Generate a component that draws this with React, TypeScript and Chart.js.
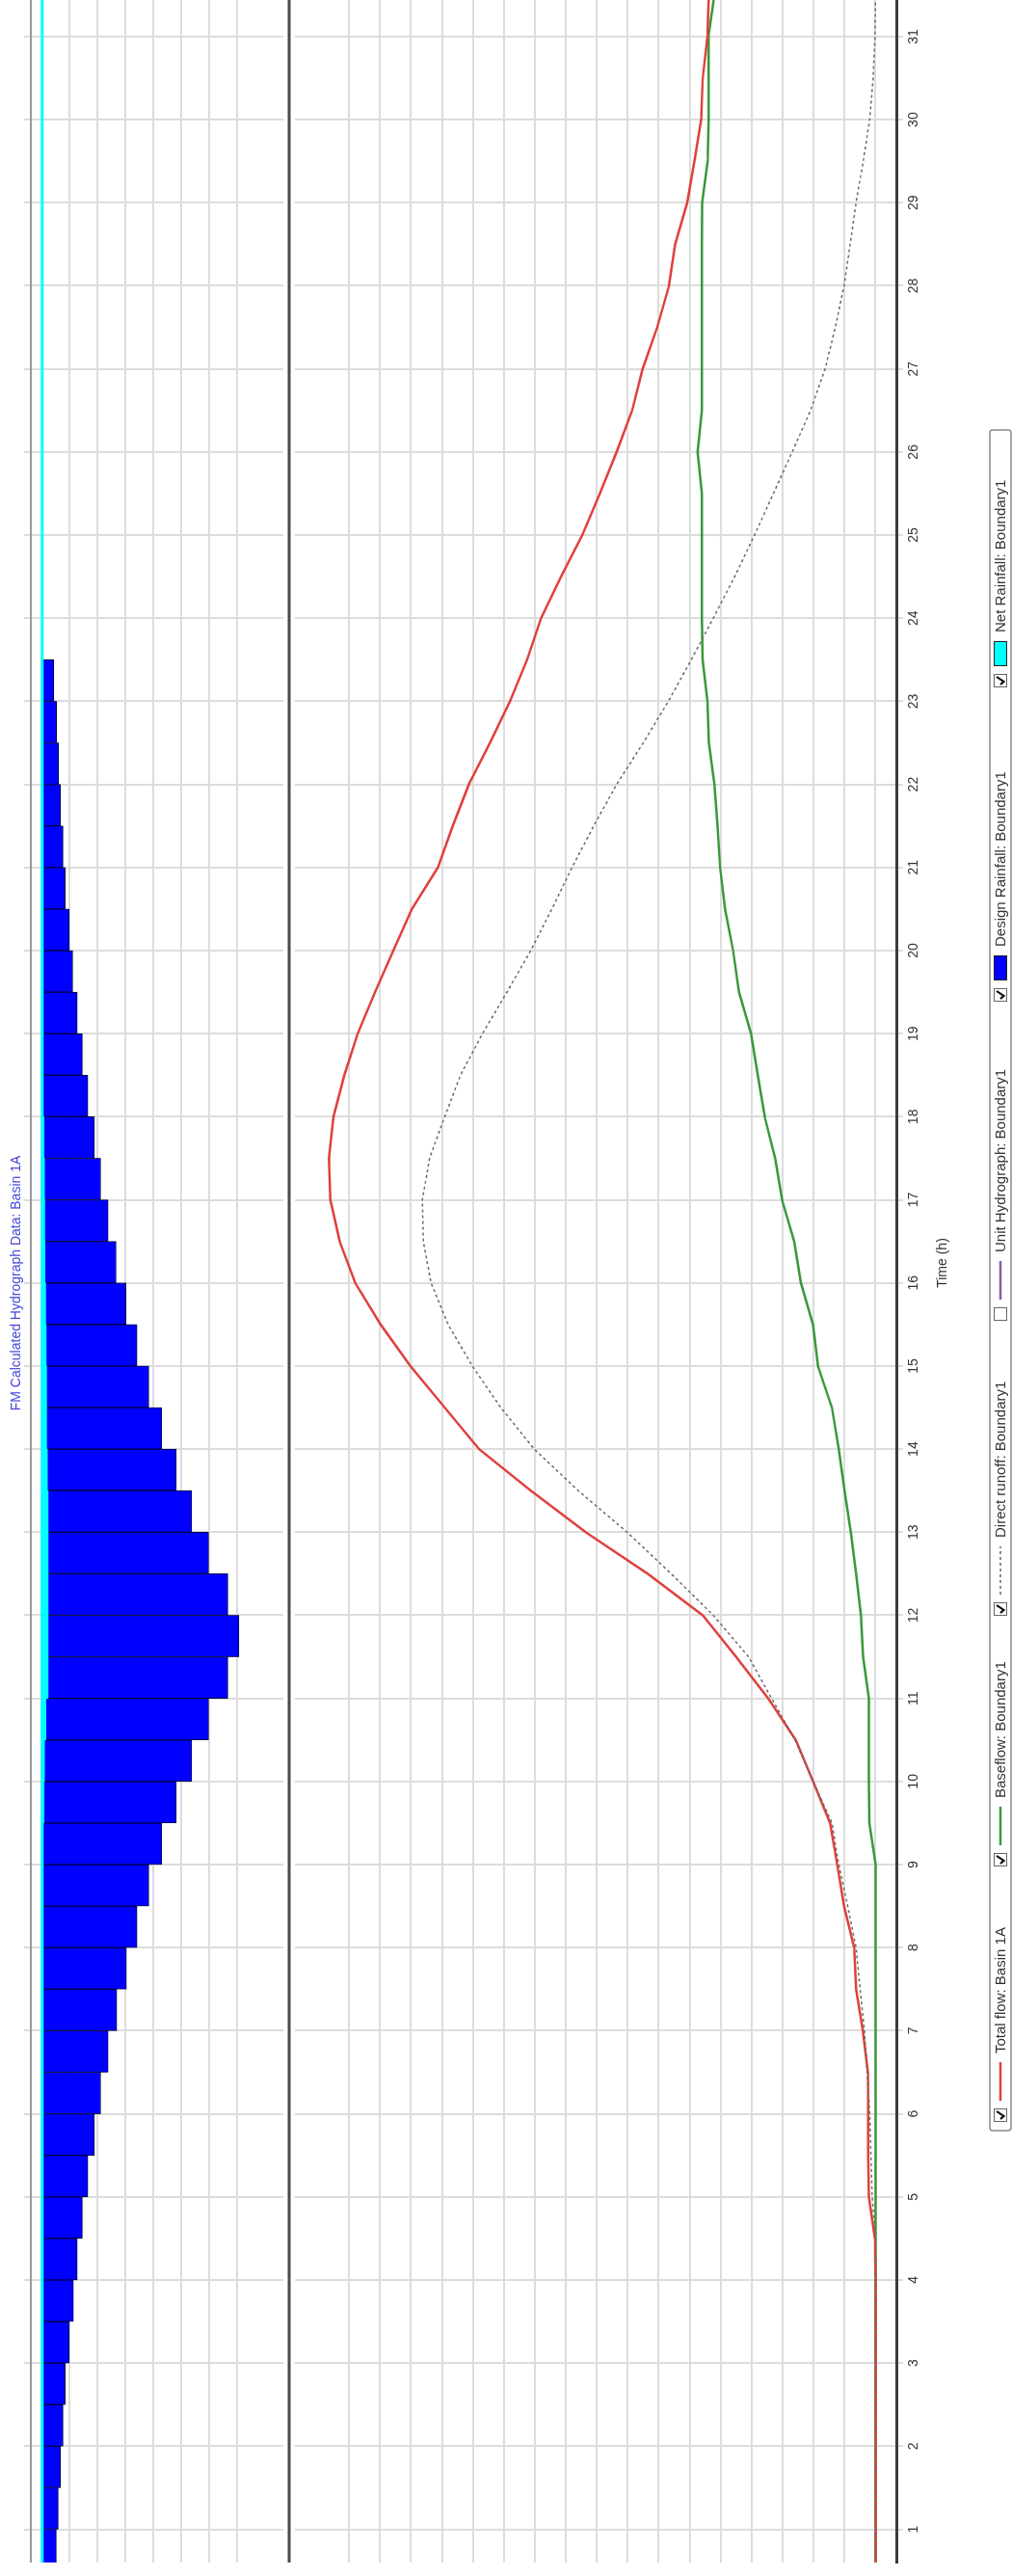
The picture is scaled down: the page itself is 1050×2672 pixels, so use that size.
import React, { useEffect, useRef } from 'react';
import { Chart, registerables } from 'chart.js';

Chart.register(...registerables);

// ---------- canvas (drawn landscape, shown rotated -90deg) ----------
const CANVAS_W = 2672;
const CANVAS_H = 1050;

// ---------- data ----------
const FLOW_TIMES = [0.5, 1, 1.5, 2, 2.5, 3, 3.5, 4, 4.5, 5, 5.5, 6, 6.5, 7, 7.5, 8, 8.5, 9, 9.5, 10, 10.5, 11, 11.5, 12, 12.5, 13, 13.5, 14, 14.5, 15, 15.5, 16, 16.5, 17, 17.5, 18, 18.5, 19, 19.5, 20, 20.5, 21, 21.5, 22, 22.5, 23, 23.5, 24, 24.5, 25, 25.5, 26, 26.5, 27, 27.5, 28, 28.5, 29, 29.5, 30, 30.5, 31, 31.5];

const TOTAL_FLOW = [0, 0, 0, 0, 0, 0, 0, 0, 0.02,
  0.22, 0.24, 0.24, 0.25, 0.41, 0.63, 0.69, 1.02, 1.24, 1.47,
  2.02, 2.58, 3.47, 4.5, 5.58, 7.36, 9.36, 11.13, 12.8, 13.91,
  15.02, 15.98, 16.8, 17.3, 17.6, 17.65, 17.5, 17.15, 16.72, 16.16,
  15.57, 14.97, 14.13, 13.65, 13.13, 12.45, 11.8, 11.25, 10.8, 10.15,
  9.47, 8.9, 8.36, 7.86, 7.52, 7.05, 6.67, 6.47, 6.08, 5.85,
  5.63, 5.58, 5.43, 5.38];

const BASE_FLOW = [0, 0, 0, 0, 0, 0, 0, 0, 0,
  0, 0, 0, 0, 0, 0, 0, 0, 0, 0.2,
  0.22, 0.22, 0.22, 0.4, 0.47, 0.63, 0.8, 1.0, 1.19, 1.41,
  1.86, 2.02, 2.41, 2.63, 3.02, 3.24, 3.58, 3.8, 4.02, 4.41,
  4.6, 4.86, 5.02, 5.1, 5.2, 5.38, 5.43, 5.58, 5.61, 5.61,
  5.61, 5.61, 5.75, 5.61, 5.61, 5.61, 5.61, 5.61, 5.6, 5.42,
  5.39, 5.39, 5.4, 5.2];

const DIRECT_RUNOFF = [0, 0, 0, 0, 0, 0, 0, 0, 0,
  0.11, 0.15, 0.19, 0.27, 0.36, 0.5, 0.63, 0.9, 1.19, 1.41,
  2.02, 2.6, 3.36, 4.1, 5.24, 6.6, 8.02, 9.6, 11.02, 12.1,
  13.02, 13.8, 14.35, 14.6, 14.63, 14.4, 13.91, 13.4, 12.69, 11.9,
  11.13, 10.45, 9.8, 9.1, 8.36, 7.5, 6.69, 5.95, 5.24, 4.55,
  3.91, 3.3, 2.69, 2.1, 1.63, 1.3, 1.02, 0.82, 0.63, 0.4,
  0.19, 0.08, 0.02, 0];

// rainfall: half-hour blocks, given by the end time of each block
const RAIN_BLOCK_END = [1, 1.5, 2, 2.5, 3, 3.5, 4, 4.5, 5, 5.5, 6, 6.5, 7, 7.5, 8, 8.5, 9, 9.5, 10, 10.5, 11, 11.5, 12, 12.5, 13, 13.5, 14, 14.5, 15, 15.5, 16, 16.5, 17, 17.5, 18, 18.5, 19, 19.5, 20, 20.5, 21, 21.5, 22, 22.5, 23, 23.5];
const DESIGN_RAIN = [0.54, 0.61, 0.69, 0.78, 0.86, 1.01, 1.15, 1.29, 1.47, 1.67,
  1.9, 2.13, 2.39, 2.7, 3.05, 3.43, 3.85, 4.31, 4.83, 5.38,
  5.98, 6.67, 7.07, 6.67, 5.98, 5.38, 4.83, 4.31, 3.85, 3.43,
  3.03, 2.68, 2.39, 2.13, 1.9, 1.67, 1.47, 1.29, 1.13, 1.01,
  0.86, 0.78, 0.69, 0.63, 0.55, 0.46];

const NET_BLOCK_END = [1, 1.5, 2, 2.5, 3, 3.5, 4, 4.5, 5, 5.5, 6, 6.5, 7, 7.5, 8, 8.5, 9, 9.5, 10, 10.5, 11, 11.5, 12, 12.5, 13, 13.5, 14, 14.5, 15, 15.5, 16, 16.5, 17, 17.5, 18, 18.5, 19, 19.5, 20, 20.5, 21, 21.5, 22, 22.5, 23, 23.5, 24, 24.5, 25, 25.5, 26, 26.5, 27, 27.5, 28, 28.5, 29, 29.5, 30, 30.5, 31, 31.5];
const NET_RAIN = [0.08, 0.08, 0.08, 0.08, 0.08, 0.08, 0.08, 0.08, 0.08, 0.08,
  0.08, 0.08, 0.08, 0.08, 0.08, 0.08, 0.08, 0.08,
  0.1, 0.12, 0.17, 0.25, 0.25, 0.25, 0.25, 0.25, 0.22, 0.2, 0.2, 0.18,
  0.16, 0.14, 0.13, 0.12, 0.1,
  0.08, 0.08, 0.08, 0.08, 0.08, 0.08, 0.08, 0.08, 0.08, 0.08,
  0.08, 0.08, 0.08, 0.08, 0.08, 0.08, 0.08, 0.08, 0.08, 0.08,
  0.08, 0.08, 0.08, 0.08, 0.08, 0.08, 0.08];

const TIME_TICKS = [1, 2, 3, 4, 5, 6, 7, 8, 9, 10, 11, 12, 13, 14, 15, 16, 17, 18, 19, 20, 21, 22, 23, 24, 25, 26, 27, 28, 29, 30, 31];
const FLOW_GRID = [0, 1, 2, 3, 4, 5, 6, 7, 8, 9, 10, 11, 12, 13, 14, 15, 16, 17];
const RAIN_GRID = [1, 2, 3, 4, 5, 6, 7];

const TITLE = 'FM Calculated Hydrograph Data: Basin 1A';
const TIME_TITLE = 'Time (h)';

// ---------- axis ranges / layout ----------
const TIME_MIN = 0.6;
const TIME_MAX = 31.44;
const FLOW_MIN = -0.67;
const FLOW_MAX = 27.27;
const RAIN_MIN = -0.367;
const RAIN_MAX = 30.55;
const RAIN_PANEL_MAX = 8.86;
const PLOT_TOP = 32;
const PLOT_BOTTOM = 930;
const PLOT_LEFT = 14;

const GRID = '#dcdcdc';
const FONT = '"Liberation Sans", Arial, sans-serif';

const LEGEND_BOX = { x: 462, y: 1027, w: 1764, h: 22 };
const LEGEND_ITEMS = [
  { label: 'Total flow: Basin 1A', checked: true, kind: 'line', color: '#e0403c', x: 471 },
  { label: 'Baseflow: Boundary1', checked: true, kind: 'line', color: '#3a983a', x: 736 },
  { label: 'Direct runoff: Boundary1', checked: true, kind: 'dash', color: '#666666', x: 996 },
  { label: 'Unit Hydrograph: Boundary1', checked: false, kind: 'line', color: '#8a5c9c', x: 1302 },
  { label: 'Design Rainfall: Boundary1', checked: true, kind: 'box', color: '#0000ff', x: 1633 },
  { label: 'Net Rainfall: Boundary1', checked: true, kind: 'box', color: '#00ffff', x: 1959 },
];

const decorPlugin = {
  id: 'decor',
  beforeDatasetsDraw(chart: any) {
    const { ctx, chartArea } = chart;
    const rain = chart.scales.yRain;
    const yDiv = rain.getPixelForValue(RAIN_PANEL_MAX);
    ctx.save();
    ctx.strokeStyle = '#ffffff';
    ctx.lineWidth = 12;
    ctx.beginPath();
    ctx.moveTo(chartArea.left, yDiv);
    ctx.lineTo(chartArea.right, yDiv);
    ctx.stroke();
    ctx.strokeStyle = '#4a4a4a';
    ctx.lineWidth = 3;
    ctx.beginPath();
    ctx.moveTo(chartArea.left, yDiv);
    ctx.lineTo(chartArea.right, yDiv);
    ctx.stroke();
    ctx.strokeStyle = '#9a9a9a';
    ctx.lineWidth = 2;
    ctx.beginPath();
    ctx.moveTo(chartArea.left, chartArea.top);
    ctx.lineTo(chartArea.right, chartArea.top);
    ctx.stroke();
    ctx.restore();
  },
  afterDraw(chart: any) {
    const { ctx } = chart;
    ctx.save();
    ctx.font = `14px ${FONT}`;
    ctx.fillStyle = '#4848d8';
    ctx.textAlign = 'center';
    ctx.textBaseline = 'middle';
    ctx.fillText(TITLE, 1341, 17);
    ctx.fillStyle = '#333333';
    ctx.fillText(TIME_TITLE, 1362, 978);

    const b = LEGEND_BOX;
    ctx.fillStyle = '#ffffff';
    ctx.strokeStyle = '#8a8a8a';
    ctx.lineWidth = 1.5;
    ctx.beginPath();
    (ctx as any).roundRect(b.x, b.y, b.w, b.h, 3);
    ctx.fill();
    ctx.stroke();
    const cy = b.y + b.h / 2;
    ctx.textAlign = 'left';
    ctx.textBaseline = 'middle';
    ctx.font = `15px ${FONT}`;
    LEGEND_ITEMS.forEach((it) => {
      const cs = 14;
      ctx.fillStyle = '#ffffff';
      ctx.strokeStyle = '#666666';
      ctx.lineWidth = 1;
      ctx.fillRect(it.x, cy - cs / 2, cs, cs);
      ctx.strokeRect(it.x + 0.5, cy - cs / 2 + 0.5, cs - 1, cs - 1);
      if (it.checked) {
        ctx.strokeStyle = '#111111';
        ctx.lineWidth = 2.2;
        ctx.beginPath();
        ctx.moveTo(it.x + 3, cy);
        ctx.lineTo(it.x + 6, cy + 3.5);
        ctx.lineTo(it.x + 11, cy - 4);
        ctx.stroke();
      }
      const sx = it.x + cs + 8;
      let ex = sx;
      if (it.kind === 'box') {
        ex = sx + 26;
        ctx.fillStyle = it.color;
        ctx.fillRect(sx, cy - 7, 26, 14);
        ctx.strokeStyle = '#222222';
        ctx.lineWidth = 1;
        ctx.strokeRect(sx + 0.5, cy - 6.5, 25, 13);
      } else {
        ex = sx + (it.kind === 'dash' ? 50 : 40);
        ctx.strokeStyle = it.color;
        ctx.lineWidth = it.kind === 'dash' ? 1.5 : 2.5;
        ctx.setLineDash(it.kind === 'dash' ? [3, 3] : []);
        ctx.beginPath();
        ctx.moveTo(sx, cy);
        ctx.lineTo(ex, cy);
        ctx.stroke();
        ctx.setLineDash([]);
      }
      ctx.fillStyle = '#333333';
      ctx.fillText(it.label, ex + 9, cy + 0.5);
    });
    ctx.restore();
  },
};

export default function App() {
  const ref = useRef<HTMLCanvasElement>(null);

  useEffect(() => {
    document.body.style.margin = '0';
    const canvas = ref.current;
    if (!canvas) return;

    const flowPoints = (vals: number[]) => FLOW_TIMES.map((t, i) => ({ x: t, y: vals[i] }));

    const chart = new Chart(canvas, {
      type: 'line',
      data: {
        datasets: [
          {
            type: 'line',
            label: 'Total flow: Basin 1A',
            data: flowPoints(TOTAL_FLOW),
            xAxisID: 'x',
            yAxisID: 'y',
            borderColor: '#e0403c',
            borderWidth: 2.5,
            pointRadius: 0,
            tension: 0,
            order: 1,
          },
          {
            type: 'line',
            label: 'Baseflow: Boundary1',
            data: flowPoints(BASE_FLOW),
            xAxisID: 'x',
            yAxisID: 'y',
            borderColor: '#3a983a',
            borderWidth: 2.5,
            pointRadius: 0,
            tension: 0,
            order: 2,
          },
          {
            type: 'line',
            label: 'Direct runoff: Boundary1',
            data: flowPoints(DIRECT_RUNOFF),
            xAxisID: 'x',
            yAxisID: 'y',
            borderColor: '#6a6a6a',
            borderWidth: 1.5,
            borderDash: [3, 3],
            pointRadius: 0,
            tension: 0,
            order: 0,
          },
          {
            type: 'bar',
            label: 'Net Rainfall: Boundary1',
            data: NET_BLOCK_END.map((e, i) => ({ x: e - 0.25, y: NET_RAIN[i] })),
            xAxisID: 'x',
            yAxisID: 'yRain',
            backgroundColor: '#00ffff',
            borderWidth: 0,
            barPercentage: 1,
            categoryPercentage: 1,
            grouped: false,
            order: 3,
          } as any,
          {
            type: 'bar',
            label: 'Design Rainfall: Boundary1',
            data: RAIN_BLOCK_END.map((e, i) => ({ x: e - 0.25, y: DESIGN_RAIN[i] })),
            xAxisID: 'x',
            yAxisID: 'yRain',
            backgroundColor: '#0000ff',
            borderColor: '#000040',
            borderWidth: 1,
            barPercentage: 1,
            categoryPercentage: 1,
            grouped: false,
            order: 4,
          } as any,
        ],
      },
      options: {
        animation: false,
        responsive: false,
        devicePixelRatio: 1,
        layout: { padding: { left: PLOT_LEFT, right: 0, top: 0, bottom: 0 } },
        plugins: {
          legend: { display: false },
          title: { display: false },
          tooltip: { enabled: false },
        },
        scales: {
          x: {
            type: 'linear',
            position: 'bottom',
            min: TIME_MIN,
            max: TIME_MAX,
            offset: false,
            afterBuildTicks: (s: any) => {
              s.ticks = TIME_TICKS.map((v) => ({ value: v }));
            },
            afterFit: (s: any) => {
              s.height = CANVAS_H - PLOT_BOTTOM;
            },
            ticks: {
              autoSkip: false,
              maxRotation: 0,
              padding: 3,
              color: '#333333',
              font: { family: FONT, size: 14 },
            },
            grid: { color: GRID, lineWidth: 2, tickLength: 7, drawTicks: true, offset: false },
            border: { display: true, color: '#3c3c3c', width: 3 },
          },
          x2: {
            type: 'linear',
            position: 'top',
            min: TIME_MIN,
            max: TIME_MAX,
            offset: false,
            afterBuildTicks: (s: any) => {
              s.ticks = TIME_TICKS.map((v) => ({ value: v }));
            },
            afterFit: (s: any) => {
              s.height = PLOT_TOP;
            },
            ticks: { display: false },
            grid: { color: GRID, lineWidth: 2, tickLength: 7, drawTicks: true, drawOnChartArea: false },
            border: { display: false },
          },
          y: {
            type: 'linear',
            position: 'left',
            min: FLOW_MIN,
            max: FLOW_MAX,
            afterBuildTicks: (s: any) => {
              s.ticks = FLOW_GRID.map((v) => ({ value: v }));
            },
            afterFit: (s: any) => {
              s.width = 0;
            },
            ticks: { display: false },
            grid: { color: GRID, lineWidth: 2, drawTicks: false },
            border: { display: false },
          },
          yRain: {
            type: 'linear',
            position: 'left',
            reverse: true,
            min: RAIN_MIN,
            max: RAIN_MAX,
            afterBuildTicks: (s: any) => {
              s.ticks = RAIN_GRID.map((v) => ({ value: v }));
            },
            afterFit: (s: any) => {
              s.width = 0;
            },
            ticks: { display: false },
            grid: { color: GRID, lineWidth: 2, drawTicks: false },
            border: { display: false },
          },
        },
      } as any,
      plugins: [decorPlugin],
    });

    return () => chart.destroy();
  }, []);

  return (
    <div
      style={{
        position: 'absolute',
        left: 0,
        top: 0,
        width: CANVAS_W,
        height: CANVAS_H,
        background: '#ffffff',
        transformOrigin: '0 0',
        transform: `translateY(${CANVAS_W}px) rotate(-90deg)`,
      }}
    >
      <canvas
        ref={ref}
        width={CANVAS_W}
        height={CANVAS_H}
        style={{ display: 'block', width: CANVAS_W, height: CANVAS_H }}
      />
    </div>
  );
}
